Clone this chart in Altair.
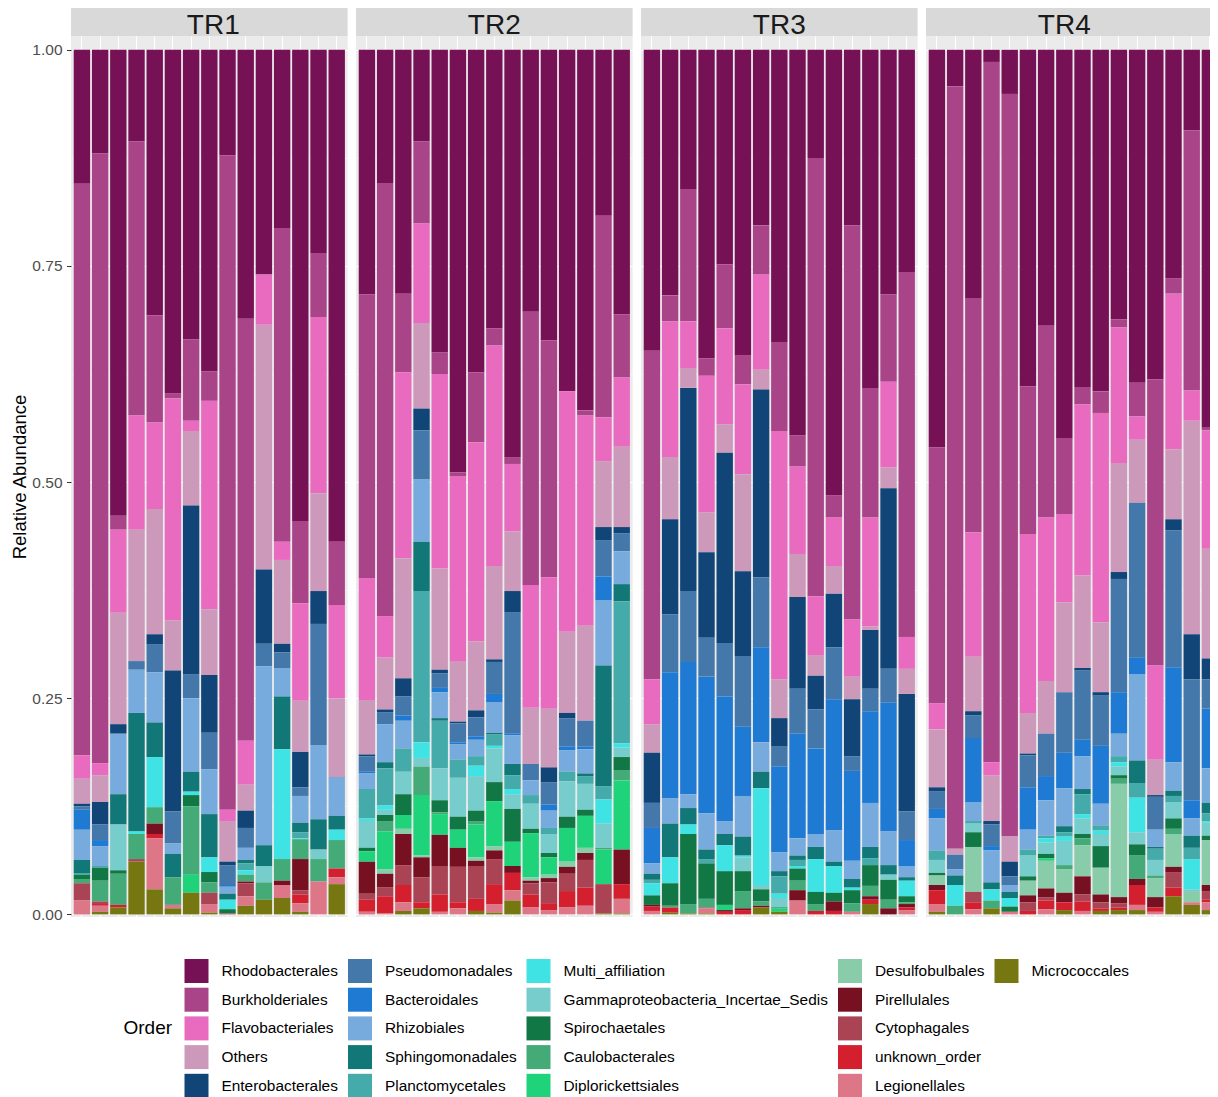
import altair as alt
import pandas as pd

FONT = "Liberation Sans"

treatments = ["TR1", "TR2", "TR3", "TR4"]
samples_per_treatment = [15, 15, 15, 16]

orders = [
    "Rhodobacterales", "Burkholderiales", "Flavobacteriales", "Others", "Enterobacterales",
    "Pseudomonadales", "Bacteroidales", "Rhizobiales", "Sphingomonadales", "Planctomycetales",
    "Multi_affiliation", "Gammaproteobacteria_Incertae_Sedis", "Spirochaetales", "Caulobacterales",
    "Diplorickettsiales", "Desulfobulbales", "Pirellulales", "Cytophagales", "unknown_order",
    "Legionellales", "Micrococcales",
]
order_colors = [
    "#771155", "#AA4488", "#E86BBF", "#CC99BB", "#114477",
    "#4477AA", "#1F7AD4", "#77AADD", "#117777", "#44AAAA",
    "#3FE3E3", "#77CCCC", "#117744", "#44AA77",
    "#1FD37B", "#88CCAA", "#771122", "#AA4455", "#D41F2E",
    "#DD7788", "#777711",
]

# relative abundance per sample (TR1 x15, TR2 x15, TR3 x15, TR4 x16)
rhodobacterales = [
    .155, .120, .539, .106, .307, .397, .335, .372, .122, .311, .260, .206, .545, .235, .569,
    .283, .154, .282, .106, .350, .489, .373, .322, .471, .303, .336, .395, .417, .192, .306,
    .348, .284, .161, .357, .248, .353, .203, .338, .446, .125, .515, .203, .391, .283, .257,
    .460, .042, .287, .014, .051, .389, .319, .449, .390, .395, .312, .385, .381, .264, .093, .437]
burkholderiales = [
    .661, .705, .016, .317, .124, .006, .094, .034, .757, .488, 0, .363, .095, .074, .073,
    .328, .501, .091, .095, .025, .004, .081, .020, .008, .316, .274, 0, .006, .233, .073,
    .380, .030, .153, .020, .074, .034, .057, .103, .036, .507, .026, .456, .150, .101, .422,
    .296, .882, .271, .810, .859, .171, .222, .088, .020, .025, .009, .039, .331, .018, .301, .003]
flavobacteriales = [
    .027, .014, .096, .132, .100, .257, .012, .241, .013, .051, .058, .021, .113, .204, .108,
    .141, .048, .215, .115, .225, .214, .230, .255, .078, .142, .152, .278, .243, .051, .080,
    .052, .157, .054, .158, .111, .104, .110, .287, .101, .068, .056, .066, .126, .099, .037,
    .030, 0, .144, .015, 0, .207, .189, .102, .198, .242, .157, .027, .109, .180, .035, .137]
others = [
    .029, .031, .129, .152, .145, .058, .086, .076, .047, .030, .283, .097, .059, .113, .091,
    .063, .060, .139, .099, .117, .070, .080, .108, .069, .065, .068, .094, .110, .076, .093,
    .033, .072, .023, .046, .033, .112, .023, .045, .050, .024, .032, .026, .004, .024, .029,
    .067, .007, .063, .053, .029, .047, .061, .104, .107, .081, .126, .073, .041, .081, .247, .127]
enterobacterales = [
    .003, .026, .011, 0, .012, .163, .195, .067, .004, .020, .086, .010, .041, .038, 0,
    .002, .003, .021, .025, .004, .002, .008, .003, .025, 0, .017, .006, 0, .015, .007,
    .058, .110, .235, .099, .220, .098, .217, .033, .106, .039, .062, .066, .068, .209, .136,
    .005, 0, .005, .004, .017, .002, 0, 0, .003, .004, .008, 0, .002, .013, .052, .024]
pseudomonadales = [
    .004, .018, 0, .010, .032, .037, .028, .042, .023, .023, .026, .018, .010, .140, 0,
    .018, .014, .022, .057, .017, .022, .022, .037, .140, .019, .026, .033, .030, .042, .021,
    .029, .067, .082, .045, .062, .082, .081, .023, .052, .045, .060, .017, .026, .039, .033,
    .020, .017, .026, .025, .010, .037, .049, .070, .080, .058, .131, .179, .038, .158, .140, .034]
bacteroidales = [
    .023, .007, 0, 0, 0, 0, 0, 0, .002, 0, 0, 0, 0, 0, 0,
    .002, 0, .006, 0, .005, .002, .004, .010, .002, 0, .007, .004, .003, .028, 0,
    .041, .146, .153, .158, .144, .080, .110, .099, .121, .099, .152, .104, .106, .149, .030,
    .011, 0, .074, .005, 0, .049, .028, .041, .019, .067, .048, .019, 0, .110, .021, .069]
rhizobiales = [
    .035, .023, .070, .050, .058, .012, .085, .052, .008, .014, .207, .033, .031, .086, .045,
    .018, .044, .032, .072, .030, .018, .019, .035, .033, .017, .020, .025, .028, .075, .038,
    .012, .029, .016, .042, .015, .047, .034, .022, .020, .015, .036, .021, .051, .039, .013,
    .037, .007, .022, .037, .008, .023, .041, .044, .038, .025, .026, .100, .020, .033, .020, .040]
sphingomonadales = [
    .015, 0, .035, .137, .040, .027, .023, .050, .007, .004, .024, .061, .011, .035, .016,
    0, .007, 0, .057, .003, 0, 0, .002, .013, 0, 0, 0, .003, .140, .020,
    .007, .039, .019, .011, .013, .022, .019, .006, .005, .014, .005, .010, .013, .011, .004,
    0, .011, 0, .008, .007, 0, 0, .007, .006, 0, 0, .026, .002, .006, .014, .012]
planctomycetales = [
    .002, .002, 0, 0, 0, 0, 0, 0, 0, .008, 0, 0, .007, 0, 0,
    .034, .043, .027, .175, .055, .021, .011, .013, .016, .010, .007, .011, .009, .015, .164,
    .004, 0, 0, .005, 0, 0, 0, .020, .007, 0, 0, 0, .008, 0, 0,
    .011, 0, .003, 0, 0, .007, .003, .005, .023, .006, .007, .017, .013, .007, .013, .009]
multi_affiliation = [
    0, 0, 0, .003, .058, 0, .004, .017, .011, .005, 0, .127, .001, 0, .012,
    .003, .005, 0, .018, 0, 0, .012, .003, .006, 0, 0, 0, 0, .028, .005,
    .014, .030, .011, 0, .030, .002, .112, .005, .003, .038, .031, .003, 0, 0, .018,
    0, .024, 0, .013, .010, 0, .005, .005, .005, .004, .005, .040, 0, 0, .035, .002]
gammaproteobacteria_incertae_sedis = [
    0, 0, .053, 0, 0, 0, 0, 0, 0, 0, .019, 0, 0, .011, 0,
    .031, .006, .026, .010, .037, .045, .040, .039, .017, .029, .022, .041, .030, .028, .011,
    0, 0, 0, 0, 0, .016, .005, .011, 0, 0, 0, 0, 0, .006, 0,
    .015, 0, .010, 0, 0, .024, .013, .028, .018, .014, .010, .014, .018, .019, .003, .015]
spirochaetales = [
    .005, .015, .004, 0, 0, 0, .013, .012, .005, 0, 0, 0, 0, 0, 0,
    .004, .007, .024, 0, .014, .015, .012, .022, .038, .005, .005, .013, .007, 0, .015,
    .011, .026, .081, .041, .039, .023, .014, .001, .014, .014, .010, .015, .024, .023, .007,
    .003, 0, .017, 0, .006, .005, .005, 0, .005, .025, .004, .013, 0, .012, 0, .005]
caulobacterales = [
    .005, .024, .036, .029, .019, .032, .079, .012, 0, .008, .020, .025, .023, .026, .033,
    0, .012, 0, .033, .002, 0, .004, 0, 0, 0, 0, 0, 0, .002, .012,
    0, .002, .011, .010, 0, .020, .005, 0, .011, .008, 0, .010, .012, .010, .002,
    0, .010, 0, .009, 0, 0, 0, .005, .008, 0, .006, .027, .003, .006, 0, 0]
diplorickettsiales = [
    0, 0, 0, 0, 0, 0, .021, 0, 0, 0, 0, 0, 0, 0, 0,
    .012, .044, .016, .070, .024, .021, .038, .052, .028, .051, .020, .039, .037, .040, .080,
    0, 0, 0, 0, .006, 0, 0, .004, 0, 0, 0, 0, 0, 0, 0,
    0, 0, 0, 0, 0, 0, .003, 0, 0, 0, 0, 0, 0, 0, 0, 0]
desulfobulbales = [
    0, 0, 0, 0, 0, 0, 0, 0, 0, 0, 0, 0, 0, 0, 0,
    0, .005, .006, .002, 0, 0, .004, .005, 0, .004, .004, .006, .006, 0, 0,
    0, 0, 0, 0, 0, 0, 0, 0, 0, 0, 0, 0, 0, 0, 0,
    .011, 0, .052, 0, 0, .017, .032, .027, .036, .031, .131, 0, .022, .038, .012, .052]
pirellulales = [
    0, 0, 0, 0, .012, 0, 0, 0, 0, .002, 0, .005, .036, 0, 0,
    .037, .016, .036, .023, .036, .022, .006, .010, .008, .003, .005, .008, .008, 0, .040,
    .002, 0, 0, 0, .002, .002, .002, 0, .012, 0, .011, 0, .004, .007, .004,
    .006, 0, 0, 0, 0, .008, .010, .011, .021, .009, .007, .007, .012, .006, 0, .007]
cytophagales = [
    .020, .003, 0, .003, 0, 0, 0, .013, .001, .015, 0, 0, .005, 0, 0,
    .007, .010, .023, .029, .033, .041, .038, .029, 0, .013, .024, .020, .032, .034, 0,
    0, 0, 0, .001, 0, 0, 0, 0, 0, 0, 0, 0, 0, 0, 0,
    0, 0, .012, 0, 0, .010, .004, 0, .008, .007, .005, 0, 0, .018, 0, .010]
unknown_order = [
    0, .002, .003, 0, .005, 0, 0, 0, 0, 0, 0, 0, .010, 0, .010,
    .014, .020, .020, .007, .020, .007, .014, .023, .020, .015, .008, .019, .021, 0, .017,
    .005, .006, 0, 0, .003, .005, 0, 0, 0, .004, .004, 0, .005, 0, .003,
    .016, 0, .008, 0, 0, .004, .010, .009, .011, .003, .003, .023, .005, .010, 0, .003]
legionellales = [
    .016, .007, 0, 0, .059, .004, 0, .010, 0, .011, 0, .015, .010, .038, .008,
    .003, .001, .010, 0, .003, .007, 0, .010, .012, .008, .005, .008, .010, 0, .017,
    .004, 0, 0, .006, 0, 0, 0, 0, .016, 0, 0, .003, 0, 0, .005,
    .009, 0, .006, 0, .003, 0, .006, 0, .004, 0, 0, .006, .003, 0, .003, .009]
micrococcales = [
    0, .003, .008, .061, .029, .007, .025, .002, 0, .010, .017, .019, .003, 0, .035,
    0, 0, .004, .007, 0, 0, .004, .002, .016, 0, 0, 0, 0, .001, .001,
    0, .002, .001, .001, 0, 0, .008, .003, 0, 0, 0, 0, .012, 0, 0,
    .003, 0, 0, .007, 0, 0, 0, .005, 0, .004, .005, .005, 0, .021, .011, .005]

values_by_order = {
    "Rhodobacterales": rhodobacterales, "Burkholderiales": burkholderiales,
    "Flavobacteriales": flavobacteriales, "Others": others,
    "Enterobacterales": enterobacterales, "Pseudomonadales": pseudomonadales,
    "Bacteroidales": bacteroidales, "Rhizobiales": rhizobiales,
    "Sphingomonadales": sphingomonadales, "Planctomycetales": planctomycetales,
    "Multi_affiliation": multi_affiliation,
    "Gammaproteobacteria_Incertae_Sedis": gammaproteobacteria_incertae_sedis,
    "Spirochaetales": spirochaetales, "Caulobacterales": caulobacterales,
    "Diplorickettsiales": diplorickettsiales, "Desulfobulbales": desulfobulbales,
    "Pirellulales": pirellulales, "Cytophagales": cytophagales,
    "unknown_order": unknown_order, "Legionellales": legionellales,
    "Micrococcales": micrococcales,
}

sample_ids, sample_tr = [], []
for tr, n in zip(treatments, samples_per_treatment):
    for i in range(n):
        sample_ids.append(f"{tr}_{i + 1:02d}")
        sample_tr.append(tr)

rows = []
for k, name in enumerate(orders):
    vals = values_by_order[name]
    if len(vals) != len(sample_ids):
        raise ValueError(f"{name}: {len(vals)} values")
    for sid, tr, v in zip(sample_ids, sample_tr, vals):
        if v > 0:
            rows.append({"sample": sid, "TR": tr, "Order": name, "value": v,
                         "stack": len(orders) - 1 - k})
df = pd.DataFrame(rows)

# legend laid out column-wise (5 rows), padded with invisible blanks
legend_domain, legend_range = [], []
for r in range(5):
    for c in range(5):
        k = c * 5 + r
        if k < len(orders):
            legend_domain.append(orders[k])
            legend_range.append(order_colors[k])
        else:
            legend_domain.append(" " * (r + 1))
            legend_range.append("transparent")

legend = alt.Legend(
    orient="none", legendX=52.5, legendY=923, direction="horizontal", columns=5,
    title="Order", titleOrient="left", titleAnchor="middle", titleBaseline="middle",
    titleFontSize=19, titleFontWeight="normal", titleColor="#000000", titleFont=FONT,
    titlePadding=12,
    labelFont=FONT, labelFontSize=15.4, labelColor="#000000", labelLimit=500, labelOffset=13,
    symbolType="square", symbolSize=576, symbolStrokeWidth=0, symbolOpacity=1,
    rowPadding=4.7, columnPadding=9.5, gridAlign="each",
)

MAJOR = "abs(datum.value * 4 - round(datum.value * 4)) < 0.001"
grid_values = [i / 8 for i in range(9)]

STEP = 18.2
PANEL_H = 881
STRIP_H = 28
FULL_W = STEP * (15 - 0.1 + 2 * 0.15)   # width of a 15-sample panel
STRIP_LABEL_SHIFT = [4, 0, 0, 0]

panels = []
for p, (tr, n) in enumerate(zip(treatments, samples_per_treatment)):
    w = STEP * (n - 0.1 + 2 * 0.15)
    first = p == 0
    sub = df[df["TR"] == tr]
    xs = [s for s, t in zip(sample_ids, sample_tr) if t == tr]
    y_axis = alt.Axis(
        values=grid_values,
        labelExpr=f"{MAJOR} ? format(datum.value, '.2f') : ''",
        labels=first, ticks=first, domain=False,
        title="Relative Abundance" if first else None,
        titleFont=FONT, titleFontSize=18.5, titleFontWeight="normal", titleColor="#000000",
        titlePadding=2.2,
        labelFont=FONT, labelFontSize=15.5, labelColor="#4D4D4D", labelPadding=4.5,
        labelOverlap=False, labelFlush=False,
        tickSize=4.5, tickColor="#333333", tickWidth=1,
        tickOpacity={"condition": {"test": MAJOR, "value": 1}, "value": 0},
        grid=True, gridColor="#FFFFFF",
        gridWidth={"condition": {"test": MAJOR, "value": 1.1}, "value": 0.55},
    )
    bars = alt.Chart(sub).mark_bar().encode(
        x=alt.X("sample:N", sort=xs,
                scale=alt.Scale(paddingInner=0.1, paddingOuter=0.15),
                axis=alt.Axis(labels=False, ticks=False, domain=False, title=None,
                              grid=True, gridColor="#FFFFFF", gridWidth=1.1)),
        y=alt.Y("value:Q", stack="zero",
                scale=alt.Scale(domain=[-0.003, 1.016], nice=False, zero=False),
                axis=y_axis),
        color=alt.Color("Order:N", scale=alt.Scale(domain=legend_domain, range=legend_range),
                        legend=legend),
        order=alt.Order("stack:Q", sort="ascending"),
    )
    strip_df = pd.DataFrame({"TR": [tr]})
    strip = alt.Chart(strip_df).mark_rect(color="#D9D9D9").encode(
        x=alt.value(0), x2=alt.value(w), y=alt.value(-STRIP_H), y2=alt.value(0))
    strip_text = alt.Chart(strip_df).mark_text(
        font=FONT, fontSize=28, color="#1A1A1A", align="center", baseline="alphabetic"
    ).encode(x=alt.value(FULL_W / 2 + STRIP_LABEL_SHIFT[p]), y=alt.value(-2.5), text="TR:N")
    panels.append(alt.layer(strip, strip_text, bars).properties(width=w, height=PANEL_H))

# fixed page frame: the first panel's top-left corner sits at (71, 36) on the page,
# and the drawing is cut at the page edge like the reference
PAD_LEFT, PAD_TOP = 63, 28
chart = (
    alt.hconcat(*panels, spacing=8)
    .resolve_scale(x="independent", y="independent", color="shared")
    .properties(
        autosize=alt.AutoSizeParams(type="none"),
        padding={"left": PAD_LEFT, "top": PAD_TOP,
                 "right": 1202 - PAD_LEFT, "bottom": 1089 - PAD_TOP},
        background="#FFFFFF",
    )
    .configure_view(fill="#EBEBEB", strokeWidth=0)
)

chart.save("out.html", embed_options={"renderer": "svg", "actions": False})
